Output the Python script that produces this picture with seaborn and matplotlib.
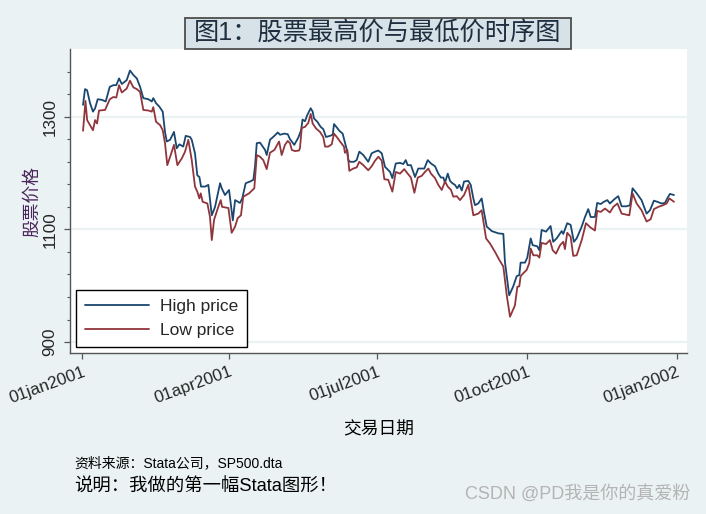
import matplotlib
matplotlib.use("Agg")
import matplotlib.pyplot as plt
import matplotlib.patches as mpatches
from matplotlib.ticker import FixedLocator
import seaborn as sns
import pandas as pd

# ---- data (day = days since 01jan2001) ----
high_day = [0.6, 1.8, 3.1, 4.9, 6.7, 8.0, 9.6, 12.1, 14.5, 17.0, 19.2, 21.0, 22.7, 24.4, 27.4, 29.4,
            31.5, 33.6, 35.6, 37.6, 40.7, 42.8, 43.7, 45.4, 47.4, 49.5, 50.9, 52.0, 54.0, 56.4, 58.1,
            59.7, 62.1, 63.6, 66.3, 67.3, 69.3, 70.7, 72.0, 73.0, 75.5, 77.5, 79.6, 81.6, 84.7, 85.7,
            87.7, 90.2, 92.5, 93.9, 96.9, 98.3, 100.4, 103.1, 105.1, 106.1, 107.2, 109.2, 112.3, 113.3,
            115.3, 118.0, 120.1, 121.5, 124.1, 126.2, 127.6, 128.7, 130.2, 132.7, 134.4, 135.3, 136.8,
            138.2, 140.3, 141.5, 142.3, 144.4, 146.4, 148.0, 149.7, 152.1, 153.8, 154.6, 156.3, 157.9,
            159.9, 162.4, 163.4, 164.4, 166.9, 168.5, 170.1, 172.6, 175.6, 177.7, 179.8, 181.8, 183.9,
            185.9, 189.0, 190.4, 192.5, 195.1, 197.1, 198.6, 199.8, 201.8, 204.3, 206.3, 210.0, 212.1,
            214.1, 216.6, 218.6, 220.2, 221.7, 222.7, 224.4, 225.8, 227.2, 228.8, 230.2, 231.5, 233.0,
            234.4, 237.0, 238.5, 240.1, 241.1, 243.1, 245.2, 246.6, 248.3, 251.4, 255.4, 258.5, 259.5,
            262.1, 264.6, 266.7, 268.3, 269.1, 271.8, 273.2, 275.3, 276.5, 279.3, 280.6, 282.0, 284.7,
            287.5, 289.1, 291.2, 294.3, 295.3, 297.7, 299.8, 301.8, 303.5, 306.6, 308.6, 310.6, 312.1,
            314.7, 316.1, 318.2, 320.2, 322.3, 323.9, 326.4, 329.0, 331.1, 334.2, 336.2, 337.8, 340.3,
            343.3, 346.4, 348.5, 350.9, 353.0, 355.6, 357.7, 359.1, 360.7, 363.2]
high_price = [1321, 1349, 1347, 1324, 1309, 1315, 1331, 1330, 1327, 1353, 1356, 1356, 1368, 1358, 1365, 1382,
              1374, 1368, 1353, 1333, 1331, 1327, 1333, 1324, 1318, 1309, 1273, 1256, 1259, 1273, 1244,
              1251, 1247, 1266, 1264, 1259, 1235, 1196, 1193, 1176, 1176, 1179, 1125, 1140, 1182, 1173,
              1161, 1170, 1116, 1152, 1147, 1155, 1182, 1185, 1188, 1211, 1253, 1254, 1241, 1232,
              1259, 1266, 1272, 1268, 1270, 1269, 1260, 1256, 1250, 1263, 1276, 1295, 1292,
              1303, 1315, 1309, 1297, 1291, 1282, 1278, 1264, 1266, 1268, 1287, 1281, 1275,
              1270, 1242, 1223, 1220, 1220, 1223, 1238, 1232, 1220, 1235, 1238, 1240, 1235,
              1211, 1202, 1191, 1217, 1218, 1216, 1223, 1214, 1214, 1193, 1208, 1208, 1223,
              1217, 1212, 1199, 1192, 1192, 1183, 1199, 1186, 1182, 1179, 1173, 1179, 1169,
              1185, 1186, 1179, 1155, 1143, 1146, 1155, 1131, 1105, 1097, 1093, 1092, 1042,
              983, 999, 1017, 1019, 1041, 1041, 1050, 1084, 1072, 1070, 1063, 1099, 1096,
              1106, 1078, 1084, 1097, 1092, 1111, 1108, 1078, 1084, 1105, 1122, 1136, 1122,
              1122, 1147, 1145, 1149, 1152, 1146, 1153, 1159, 1141, 1141, 1143, 1173, 1164,
              1152, 1128, 1134, 1151, 1149, 1146, 1147, 1155, 1163, 1161]

low_day = [0.6, 2.1, 3.1, 4.9, 6.7, 8.0, 9.2, 10.4, 14.1, 17.0, 19.2, 21.0, 22.7, 24.4, 27.4, 29.4,
           31.5, 33.6, 35.6, 37.6, 40.7, 42.8, 43.7, 45.4, 47.9, 49.5, 50.9, 52.3, 54.4, 56.4, 58.5,
           61.2, 63.2, 65.2, 67.3, 69.3, 70.7, 72.0, 72.8, 74.0, 76.9, 78.5, 79.6, 81.0, 83.6, 85.1,
           85.9, 89.8, 91.8, 93.9, 95.5, 97.5, 98.9, 102.5, 105.7, 107.2, 109.2, 111.2, 113.3, 115.3,
           118.0, 120.9, 122.5, 124.5, 126.2, 127.6, 128.7, 130.7, 133.1, 133.7, 134.8, 136.8, 138.8,
           140.3, 141.5, 143.6, 146.0, 148.0, 149.1, 151.1, 153.2, 154.6, 156.3, 158.3, 160.7, 161.3,
           162.8, 164.0, 166.4, 168.5, 170.1, 172.6, 175.6, 177.7, 179.8, 181.8, 183.9, 185.5, 187.9,
           190.4, 192.5, 195.1, 197.7, 199.8, 201.8, 203.9, 206.0, 208.4, 210.4, 212.5, 214.1, 216.6,
           218.6, 220.7, 222.7, 224.4, 226.4, 227.8, 229.9, 231.9, 234.4, 237.0, 240.1, 243.1, 245.2,
           247.9, 250.3, 253.4, 256.0, 258.5, 260.6, 262.6, 265.6, 267.1, 268.3, 269.1, 270.7, 272.8,
           274.4, 275.3, 276.9, 279.3, 280.6, 282.0, 284.7, 287.1, 288.8, 290.8, 293.3, 295.3, 296.3,
           297.7, 299.8, 301.4, 303.5, 306.6, 309.2, 311.7, 314.7, 316.1, 318.2, 320.9, 323.9, 326.0,
           328.5, 331.1, 335.8, 337.8, 340.3, 343.3, 346.4, 348.9, 350.9, 353.6, 356.6, 358.7, 360.4,
           363.2]
low_price = [1275, 1328, 1294, 1285, 1276, 1294, 1288, 1311, 1312, 1331, 1335, 1334, 1356, 1343, 1350, 1364,
             1352, 1349, 1344, 1312, 1311, 1309, 1317, 1291, 1285, 1276, 1253, 1214, 1232, 1250, 1214,
             1226, 1238, 1259, 1223, 1176, 1167, 1155, 1164, 1149, 1146, 1122, 1081, 1117, 1140, 1152,
             1140, 1138, 1094, 1105, 1120, 1125, 1158, 1164, 1173, 1232, 1229, 1223, 1207, 1236,
             1241, 1256, 1232, 1250, 1257, 1253, 1241, 1239, 1240, 1244, 1280, 1282, 1289,
             1305, 1288, 1279, 1273, 1264, 1247, 1247, 1251, 1270, 1264, 1256, 1247, 1236,
             1241, 1204, 1208, 1210, 1220, 1214, 1205, 1212, 1222, 1229, 1222, 1189, 1188,
             1167, 1202, 1199, 1207, 1199, 1192, 1165, 1192, 1195, 1202, 1208, 1199, 1191,
             1179, 1170, 1185, 1176, 1170, 1158, 1159, 1152, 1161, 1179, 1125, 1128, 1134,
             1084, 1075, 1060, 1046, 1034, 983, 945, 965, 998, 999, 1017, 1022, 1028,
             1040, 1066, 1054, 1054, 1050, 1076, 1074, 1081, 1063, 1057, 1072, 1078, 1065,
             1094, 1087, 1053, 1054, 1081, 1111, 1104, 1098, 1133, 1131, 1137, 1130, 1140,
             1146, 1128, 1125, 1164, 1146, 1134, 1114, 1118, 1136, 1140, 1143, 1146, 1155,
             1149]

series_labels = ["High price", "Low price"]
xtick_days = [0, 90, 181, 273, 365]
xtick_labels = ["01jan2001", "01apr2001", "01jul2001", "01oct2001", "01jan2002"]
ytick_major = [900, 1100, 1300]

title_text = "图1：股票最高价与最低价时序图"
ytitle = "股票价格"
xtitle = "交易日期"
note1 = "资料来源：Stata公司，SP500.dta"
note2 = "说明：我做的第一幅Stata图形！"
watermark = "CSDN @PD我是你的真爱粉"

# ---- style ----
sns.set_theme(style="white")
plt.rcParams["font.family"] = ["Liberation Sans", "Noto Sans CJK SC", "DejaVu Sans"]
plt.rcParams["axes.unicode_minus"] = False

BG = "#EAF2F3"
HIGH_C = "#1A476F"
LOW_C = "#90353B"

W, H = 706, 514
fig = plt.figure(figsize=(W / 100, H / 100), dpi=100, facecolor=BG)
ax = fig.add_axes([70 / W, 1 - 353 / H, 617 / W, 304 / H])
ax.set_facecolor("white")

df_high = pd.DataFrame({"day": high_day, "price": high_price})
df_low = pd.DataFrame({"day": low_day, "price": low_price})
sns.lineplot(data=df_high, x="day", y="price", ax=ax, color=HIGH_C, lw=1.3,
             label=series_labels[0], estimator=None, sort=False)
sns.lineplot(data=df_low, x="day", y="price", ax=ax, color=LOW_C, lw=1.3,
             label=series_labels[1], estimator=None, sort=False)

ax.set_xlim(-7.4, 371.2)
ax.set_ylim(880.6, 1420.2)

# grid
ax.set_yticks(ytick_major)
ax.yaxis.set_minor_locator(FixedLocator([v for v in range(940, 1400, 40) if v not in ytick_major]))
ax.grid(False)
for v in ytick_major:
    ax.axhline(v, color=BG, lw=1.6, zorder=0)

for s in ["top", "right"]:
    ax.spines[s].set_visible(False)
for s in ["left", "bottom"]:
    ax.spines[s].set_color("#555555")
    ax.spines[s].set_linewidth(1.0)

ax.tick_params(axis="y", which="major", direction="out", length=4, width=0.9, color="#555555",
               left=True, pad=5, labelsize=12.3)
ax.tick_params(axis="y", which="minor", direction="out", length=2.5, width=0.8, color="#555555", left=True)
ax.tick_params(axis="x", which="major", direction="out", length=4, width=0.9, color="#555555",
               bottom=True, pad=4, labelsize=12.3)
for lab in ax.get_yticklabels():
    lab.set_rotation(90)
    lab.set_va("center")
ax.set_xticks(xtick_days)
ax.set_xticklabels(xtick_labels, rotation=20, ha="right", va="top", rotation_mode="anchor")

ax.set_xlabel("")
ax.set_ylabel("")
fig.text(33 / W, 1 - 202 / H, ytitle, rotation=90, ha="center", va="center",
         fontsize=12.8, color="#4a235a")
fig.text(378.5 / W, 1 - 430 / H, xtitle, ha="center", va="center", fontsize=12.8, color="black")

# legend
leg = ax.legend(loc="lower left", bbox_to_anchor=(6 / 617, 6 / 304), borderaxespad=0,
                fontsize=12.5, frameon=True, fancybox=False, handlelength=3.7,
                handletextpad=0.65, labelspacing=0.55, borderpad=0.5)
leg.get_frame().set_edgecolor("black")
leg.get_frame().set_linewidth(1.0)
leg.get_frame().set_facecolor("white")
leg.get_frame().set_alpha(1)

# title box
fig.patches.append(mpatches.Rectangle((185 / W, 1 - 49 / H), 386 / W, 31 / H,
                                      transform=fig.transFigure, facecolor="#D6E2E7",
                                      edgecolor="#4d4d4d", lw=1.3, zorder=3))
fig.text(378 / W, 1 - 34 / H, title_text, ha="center", va="center", fontsize=18.2,
         color="#1f2f3f", zorder=4)

# notes
fig.text(74 / W, 1 - 463 / H, note1, ha="left", va="center", fontsize=10, color="black")
fig.text(74 / W, 1 - 487 / H, note2, ha="left", va="center", fontsize=13.2, color="black")
fig.text(690 / W, 1 - 494 / H, watermark, ha="right", va="center", fontsize=13, color="#b4b4b4")

fig.savefig("out.png", dpi=100, facecolor=BG)
